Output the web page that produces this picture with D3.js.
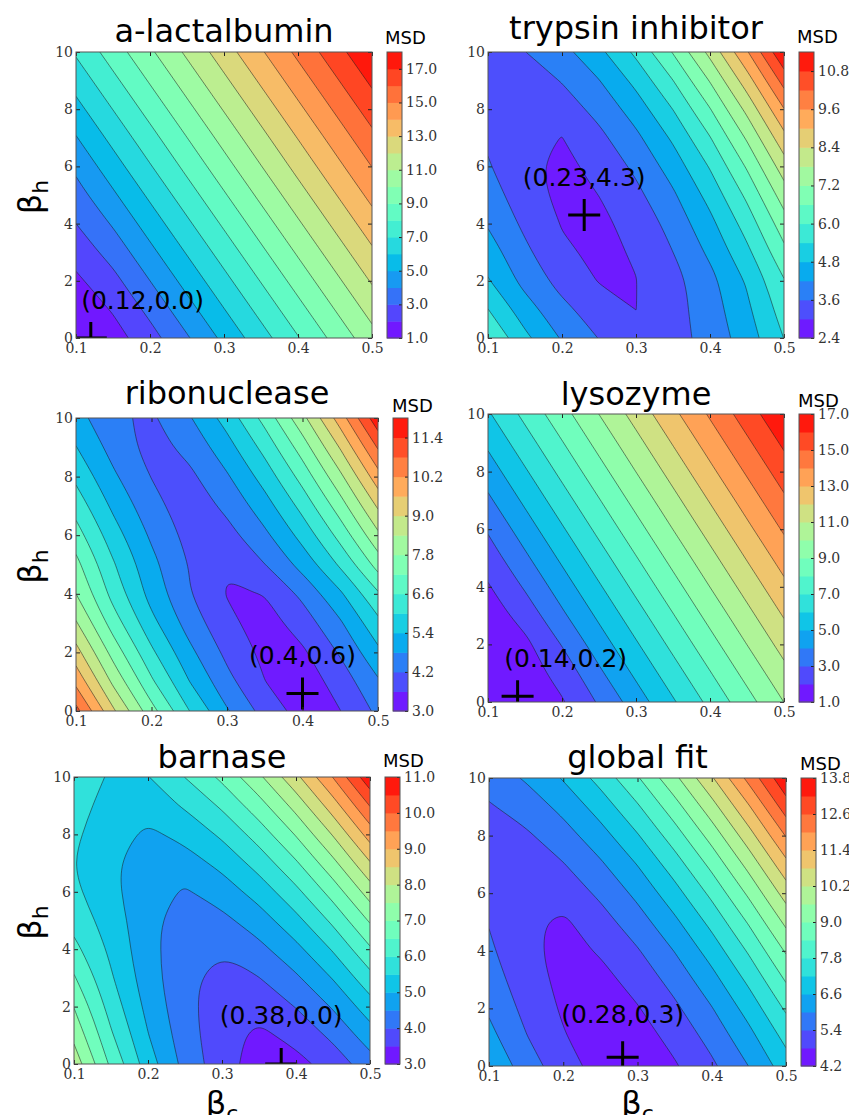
<!DOCTYPE html>
<html>
<head>
<meta charset="utf-8">
<script src="https://cdn.jsdelivr.net/npm/d3@7"></script>
<style>
  body { margin: 0; background: #fff; }
  svg { display: block; }
</style>
</head>
<body>
<svg id="chart" width="849" height="1115"></svg>
<script>
// Grid of the scan: beta_c across, beta_h up
const betaC = [0.1, 0.15, 0.2, 0.25, 0.3, 0.35, 0.4, 0.45, 0.5];
const betaH = [0, 1, 2, 3, 4, 5, 6, 7, 8, 9, 10];

// MSD, one row per beta_h value (0 at the bottom)
const lactalbuminMSD = [
    [1.05, 1.57, 2.61, 3.89, 5.24, 6.59, 7.94, 9.29, 10.64],
    [1.30, 2.09, 3.27, 4.62, 5.97, 7.32, 8.67, 10.02, 11.37],
    [1.80, 2.70, 4.00, 5.35, 6.70, 8.05, 9.40, 10.75, 12.10],
    [2.40, 3.38, 4.73, 6.08, 7.43, 8.78, 10.13, 11.48, 12.83],
    [3.00, 4.11, 5.46, 6.81, 8.16, 9.51, 10.86, 12.21, 13.56],
    [3.60, 4.84, 6.19, 7.54, 8.89, 10.24, 11.59, 12.94, 14.29],
    [4.22, 5.57, 6.92, 8.27, 9.62, 10.97, 12.32, 13.67, 15.02],
    [4.94, 6.29, 7.64, 8.99, 10.34, 11.69, 13.04, 14.39, 15.74],
    [5.67, 7.02, 8.37, 9.72, 11.07, 12.42, 13.77, 15.12, 16.47],
    [6.40, 7.75, 9.10, 10.45, 11.80, 13.15, 14.50, 15.85, 17.20],
    [7.13, 8.48, 9.83, 11.18, 12.53, 13.88, 15.23, 16.58, 17.93]
];
const trypsinMSD = [
    [5.97, 4.94, 4.14, 3.58, 3.24, 3.37, 3.82, 4.50, 5.41],
    [5.41, 4.47, 3.76, 3.28, 2.995, 3.38, 3.91, 4.68, 5.68],
    [4.85, 4.00, 3.38, 2.97, 2.99, 3.39, 4.01, 4.87, 5.96],
    [4.49, 3.73, 3.08, 2.90, 3.04, 3.60, 4.32, 5.26, 6.44],
    [4.14, 3.47, 2.97, 2.88, 3.18, 3.82, 4.63, 5.66, 6.93],
    [3.86, 3.28, 2.84, 3.005, 3.45, 4.11, 5.01, 6.13, 7.49],
    [3.65, 3.16, 2.83, 3.20, 3.72, 4.47, 5.45, 6.67, 8.11],
    [3.51, 3.11, 2.99, 3.45, 4.06, 4.90, 5.97, 7.28, 8.81],
    [3.45, 3.13, 3.31, 3.78, 4.48, 5.41, 6.57, 7.96, 9.58],
    [3.46, 3.30, 3.63, 4.18, 4.97, 5.99, 7.24, 8.72, 10.43],
    [3.53, 3.59, 4.00, 4.65, 5.53, 6.64, 7.97, 9.54, 11.35]
];
const ribonucleaseMSD = [
    [11.00, 9.08, 7.42, 6.01, 4.86, 3.97, 3.34, 3.59, 4.33],
    [10.04, 8.24, 6.70, 5.41, 4.38, 3.61, 3.25, 3.86, 4.72],
    [9.23, 7.55, 6.12, 4.96, 4.05, 3.45, 3.50, 4.27, 5.26],
    [8.46, 6.89, 5.58, 4.54, 3.74, 3.35, 3.88, 4.72, 5.83],
    [7.80, 6.36, 5.17, 4.24, 3.57, 3.61, 4.34, 5.30, 6.52],
    [7.38, 6.05, 4.98, 4.17, 3.63, 4.19, 5.02, 6.10, 7.44],
    [6.86, 5.66, 4.70, 4.01, 3.99, 4.67, 5.61, 6.81, 8.27],
    [6.35, 5.26, 4.42, 3.85, 4.34, 5.14, 6.20, 7.52, 9.09],
    [5.86, 4.89, 4.18, 4.06, 4.73, 5.65, 6.83, 8.26, 9.96],
    [5.42, 4.57, 3.97, 4.38, 5.16, 6.20, 7.49, 9.05, 10.86],
    [5.04, 4.30, 4.10, 4.74, 5.64, 6.80, 8.22, 9.89, 11.82]
];
const lysozymeMSD = [
    [1.10, 1.15, 1.91, 3.11, 4.50, 5.88, 7.26, 8.63, 10.01],
    [1.04, 1.53, 2.35, 3.81, 5.19, 6.57, 7.94, 9.32, 10.69],
    [1.15, 1.75, 3.05, 4.50, 5.88, 7.26, 8.63, 10.01, 11.38],
    [1.45, 2.40, 3.81, 5.19, 6.57, 7.94, 9.32, 10.69, 12.07],
    [1.91, 3.11, 4.50, 5.88, 7.26, 8.63, 10.01, 11.38, 12.76],
    [2.48, 3.81, 5.19, 6.57, 7.94, 9.32, 10.69, 12.07, 13.44],
    [3.11, 4.50, 5.88, 7.26, 8.63, 10.01, 11.38, 12.76, 14.13],
    [3.81, 5.19, 6.57, 7.94, 9.32, 10.69, 12.07, 13.44, 14.82],
    [4.50, 5.88, 7.26, 8.63, 10.01, 11.38, 12.76, 14.13, 15.51],
    [5.19, 6.57, 7.94, 9.32, 10.69, 12.07, 13.44, 14.82, 16.19],
    [5.88, 7.26, 8.63, 10.01, 11.38, 12.76, 14.13, 15.51, 16.88]
];
const barnaseMSD = [
    [7.80, 6.40, 5.24, 4.34, 3.69, 3.29, 3.34, 3.72, 4.28],
    [7.37, 6.07, 5.02, 4.22, 3.68, 3.39, 3.66, 4.11, 4.76],
    [6.98, 5.79, 4.85, 4.15, 3.71, 3.67, 4.02, 4.55, 5.27],
    [6.55, 5.56, 4.72, 4.14, 3.80, 3.99, 4.42, 5.03, 5.83],
    [6.15, 5.39, 4.66, 4.18, 4.04, 4.36, 4.86, 5.55, 6.43],
    [5.80, 5.27, 4.64, 4.26, 4.37, 4.76, 5.35, 6.11, 7.06],
    [5.60, 5.12, 4.68, 4.45, 4.74, 5.21, 5.87, 6.71, 7.74],
    [5.50, 5.08, 4.76, 4.78, 5.14, 5.70, 6.43, 7.36, 8.46],
    [5.58, 5.21, 4.90, 5.15, 5.59, 6.22, 7.04, 8.04, 9.22],
    [5.70, 5.30, 5.22, 5.56, 6.08, 6.79, 7.68, 8.76, 10.02],
    [5.79, 5.44, 5.48, 6.01, 6.61, 7.40, 8.37, 9.52, 10.86]
];
const globalMSD = [
    [6.53, 5.70, 5.05, 4.57, 4.36, 4.74, 5.29, 6.01, 6.91],
    [6.19, 5.43, 4.85, 4.45, 4.53, 4.98, 5.60, 6.40, 7.37],
    [5.91, 5.23, 4.72, 4.41, 4.76, 5.28, 5.97, 6.84, 7.89],
    [5.68, 5.07, 4.64, 4.61, 5.03, 5.62, 6.39, 7.34, 8.46],
    [5.50, 4.96, 4.60, 4.86, 5.35, 6.02, 6.86, 7.88, 9.07],
    [5.37, 4.91, 4.70, 5.16, 5.73, 6.47, 7.38, 8.47, 9.74],
    [5.28, 4.80, 5.05, 5.51, 6.15, 6.97, 7.95, 9.12, 10.46],
    [5.25, 5.01, 5.37, 5.91, 6.62, 7.51, 8.57, 9.81, 11.22],
    [5.27, 5.31, 5.75, 6.36, 7.15, 8.11, 9.24, 10.55, 12.04],
    [5.34, 5.66, 6.17, 6.86, 7.72, 8.75, 9.96, 11.34, 12.90],
    [5.66, 6.07, 6.65, 7.41, 8.34, 9.45, 10.73, 12.19, 13.70]
];

// Contour levels and colorbar ticks
const lactalbuminLevels = [1, 2, 3, 4, 5, 6, 7, 8, 9, 10, 11, 12, 13, 14, 15, 16, 17, 18];
const lactalbuminTicks = [1, 3, 5, 7, 9, 11, 13, 15, 17];
const trypsinLevels = [2.4, 3.0, 3.6, 4.2, 4.8, 5.4, 6.0, 6.6, 7.2, 7.8, 8.4, 9.0, 9.6, 10.2, 10.8, 11.4];
const trypsinTicks = [2.4, 3.6, 4.8, 6.0, 7.2, 8.4, 9.6, 10.8];
const ribonucleaseLevels = [3.0, 3.6, 4.2, 4.8, 5.4, 6.0, 6.6, 7.2, 7.8, 8.4, 9.0, 9.6, 10.2, 10.8, 11.4, 12.0];
const ribonucleaseTicks = [3.0, 4.2, 5.4, 6.6, 7.8, 9.0, 10.2, 11.4];
const lysozymeLevels = [1, 2, 3, 4, 5, 6, 7, 8, 9, 10, 11, 12, 13, 14, 15, 16, 17];
const lysozymeTicks = [1, 3, 5, 7, 9, 11, 13, 15, 17];
const barnaseLevels = [3.0, 3.5, 4.0, 4.5, 5.0, 5.5, 6.0, 6.5, 7.0, 7.5, 8.0, 8.5, 9.0, 9.5, 10.0, 10.5, 11.0];
const barnaseTicks = [3, 4, 5, 6, 7, 8, 9, 10, 11];
const globalLevels = [4.2, 4.8, 5.4, 6.0, 6.6, 7.2, 7.8, 8.4, 9.0, 9.6, 10.2, 10.8, 11.4, 12.0, 12.6, 13.2, 13.8];
const globalTicks = [4.2, 5.4, 6.6, 7.8, 9.0, 10.2, 11.4, 12.6, 13.8];

// Best fit (beta_c, beta_h) marked on each map
const titles = ['a-lactalbumin', 'trypsin inhibitor', 'ribonuclease', 'lysozyme', 'barnase', 'global fit'];
const bestFits = [[0.12, 0.0], [0.23, 4.3], [0.4, 0.6], [0.14, 0.2], [0.38, 0.0], [0.28, 0.3]];

const panels = [
    { grid: lactalbuminMSD, levels: lactalbuminLevels, ticks: lactalbuminTicks },
    { grid: trypsinMSD, levels: trypsinLevels, ticks: trypsinTicks },
    { grid: ribonucleaseMSD, levels: ribonucleaseLevels, ticks: ribonucleaseTicks },
    { grid: lysozymeMSD, levels: lysozymeLevels, ticks: lysozymeTicks },
    { grid: barnaseMSD, levels: barnaseLevels, ticks: barnaseTicks },
    { grid: globalMSD, levels: globalLevels, ticks: globalTicks }
];

// Where each panel sits on the page (pixels); label anchor in data units
const LAYOUT = [
    { left: 76, top: 52, width: 296, height: 286, cbX: 387, titleY: 42, msd: [385, 44], label: [0.19, 1.0] },
    { left: 488, top: 52, width: 296, height: 286, cbX: 799, titleY: 39, msd: [797, 43], label: [0.23, 5.3] },
    { left: 76, top: 418, width: 302, height: 293, cbX: 393, titleY: 404, msd: [392, 412], label: [0.4, 1.6] },
    { left: 488, top: 414, width: 296, height: 288, cbX: 799, titleY: 405, msd: [798, 407], label: [0.205, 1.2] },
    { left: 74, top: 777, width: 296, height: 287, cbX: 385, titleY: 768, msd: [383, 767], label: [0.38, 1.4] },
    { left: 489, top: 778, width: 297, height: 288, cbX: 801, titleY: 768, msd: [800, 770], label: [0.28, 1.5] }
];
const CB_WIDTH = 15;
const SANS = 'DejaVu Sans, sans-serif';
const SERIF = 'DejaVu Serif, serif';

// matplotlib "rainbow" colormap
function rainbow(t) {
    const r = Math.min(1, Math.abs(2 * t - 0.5));
    const g = Math.sin(Math.PI * t);
    const b = Math.cos(Math.PI * t / 2);
    return d3.rgb(r * 255, g * 255, b * 255).formatHex();
}

const svg = d3.select('#chart');
const defs = svg.append('defs');
const basisOpen = d3.line().curve(d3.curveBasis);
const basisClosed = d3.line().curve(d3.curveBasisClosed);

// Turn one contour ring into a fill outline and the iso-lines inside the plot.
// Ring points that d3 puts on the padded grid border are pulled onto the plot frame,
// the parts running along the frame stay straight and only the iso-lines are smoothed.
function ringToPaths(ring, toPx) {
    const nx = betaC.length, ny = betaH.length;
    const onEdge = ([cx, cy]) => cx === 0 || cx === nx || cy === 0 || cy === ny;
    const pts = ring.slice(0, -1);
    const start = pts.findIndex(onEdge);
    if (start < 0) {
        const d = basisClosed(pts.map(toPx));
        return { fill: d, lines: [d] };
    }
    const m = pts.length;
    const seq = d3.range(m + 1).map(j => pts[(start + j) % m]);
    let fill = 'M' + toPx(seq[0]).join(',');
    const lines = [];
    let j = 1;
    while (j < seq.length) {
        if (onEdge(seq[j])) {
            fill += 'L' + toPx(seq[j]).join(',');
            j++;
            continue;
        }
        const run = [];
        while (j < seq.length && !onEdge(seq[j])) {
            run.push(toPx(seq[j]));
            j++;
        }
        const d = run.length > 1 ? basisOpen(run) : 'M' + run[0].join(',');
        fill += 'L' + d.slice(1);
        if (run.length > 1) lines.push(d);
    }
    return { fill: fill + 'Z', lines };
}

function drawPanel(p, L, k) {
    const x = d3.scaleLinear().domain([0.1, 0.5]).range([L.left, L.left + L.width]);
    const y = d3.scaleLinear().domain([0, 10]).range([L.top + L.height, L.top]);
    const n = p.levels.length - 1;
    const color = d3.scaleSequential(rainbow).domain([p.levels[0], p.levels[n]]);
    const bandColor = i => color((p.levels[i] + p.levels[i + 1]) / 2);

    defs.append('clipPath').attr('id', 'plot-clip-' + k)
        .append('rect')
        .attr('x', L.left).attr('y', L.top)
        .attr('width', L.width).attr('height', L.height);

    const plot = svg.append('g').attr('clip-path', `url(#plot-clip-${k})`);

    // lowest band is the background
    plot.append('rect')
        .attr('x', L.left).attr('y', L.top)
        .attr('width', L.width).attr('height', L.height)
        .attr('fill', bandColor(0));

    const nx = betaC.length, ny = betaH.length;
    const contours = d3.contours()
        .size([nx, ny])
        .thresholds(p.levels.slice(1, n))(p.grid.flat());

    // grid cell centres sit at index + 0.5 in contour space
    const stepC = betaC[1] - betaC[0];
    const stepH = betaH[1] - betaH[0];
    const toPx = ([cx, cy]) => {
        const sx = Math.min(Math.max(cx, 0.5), nx - 0.5);
        const sy = Math.min(Math.max(cy, 0.5), ny - 0.5);
        return [x(betaC[0] + (sx - 0.5) * stepC), y(betaH[0] + (sy - 0.5) * stepH)];
    };

    const shapes = contours.map(c => {
        const parts = c.coordinates.flatMap(poly => poly.map(ring => ringToPaths(ring, toPx)));
        return {
            fill: parts.map(q => q.fill).join(''),
            lines: parts.flatMap(q => q.lines).join('')
        };
    });

    plot.selectAll('path.band')
        .data(shapes)
        .join('path')
        .attr('class', 'band')
        .attr('d', d => d.fill)
        .attr('fill', (d, i) => bandColor(i + 1))
        .attr('fill-rule', 'evenodd');

    plot.selectAll('path.iso')
        .data(shapes)
        .join('path')
        .attr('class', 'iso')
        .attr('d', d => d.lines)
        .attr('fill', 'none')
        .attr('stroke', '#1a1a1a')
        .attr('stroke-opacity', 0.7)
        .attr('stroke-width', 0.75);

    // best-fit cross
    const best = bestFits[k];
    const bx = x(best[0]), by = y(best[1]);
    plot.append('path')
        .attr('d', `M${bx - 16},${by}H${bx + 16}M${bx},${by - 16}V${by + 16}`)
        .attr('stroke', '#000')
        .attr('stroke-width', 3)
        .attr('fill', 'none');

    svg.append('text')
        .attr('x', x(L.label[0]))
        .attr('y', y(L.label[1]))
        .attr('text-anchor', 'middle')
        .attr('font-family', SANS)
        .attr('font-size', 25)
        .attr('fill', '#000')
        .text(`(${best[0]},${best[1].toFixed(1)})`);

    // axes with inward ticks on all four sides
    const xTicks = [0.1, 0.2, 0.3, 0.4, 0.5];
    const yTicks = [0, 2, 4, 6, 8, 10];
    const styleAxis = g => {
        g.select('.domain').remove();
        g.selectAll('.tick line').attr('stroke', '#222');
        g.selectAll('.tick text')
            .attr('font-family', SERIF)
            .attr('font-size', 14)
            .attr('fill', '#333');
    };

    svg.append('g')
        .attr('transform', `translate(0,${L.top + L.height})`)
        .call(d3.axisBottom(x).tickValues(xTicks).tickFormat(d3.format('.1f'))
            .tickSizeInner(-4).tickSizeOuter(0).tickPadding(5))
        .call(styleAxis);
    svg.append('g')
        .attr('transform', `translate(0,${L.top})`)
        .call(d3.axisTop(x).tickValues(xTicks).tickFormat('')
            .tickSizeInner(-4).tickSizeOuter(0))
        .call(styleAxis);
    svg.append('g')
        .attr('transform', `translate(${L.left},0)`)
        .call(d3.axisLeft(y).tickValues(yTicks).tickFormat(d3.format('d'))
            .tickSizeInner(-4).tickSizeOuter(0).tickPadding(3))
        .call(styleAxis);
    svg.append('g')
        .attr('transform', `translate(${L.left + L.width},0)`)
        .call(d3.axisRight(y).tickValues(yTicks).tickFormat('')
            .tickSizeInner(-4).tickSizeOuter(0))
        .call(styleAxis);

    svg.append('rect')
        .attr('x', L.left).attr('y', L.top)
        .attr('width', L.width).attr('height', L.height)
        .attr('fill', 'none')
        .attr('stroke', '#555')
        .attr('stroke-width', 1);

    // title
    svg.append('text')
        .attr('x', L.left + L.width / 2)
        .attr('y', L.titleY)
        .attr('text-anchor', 'middle')
        .attr('font-family', SANS)
        .attr('font-size', 32)
        .attr('fill', '#000')
        .text(titles[k]);

    // colorbar
    const cy = d3.scaleLinear().domain([p.levels[0], p.levels[n]]).range([L.top + L.height, L.top]);
    const cb = svg.append('g');
    cb.selectAll('rect')
        .data(d3.range(n))
        .join('rect')
        .attr('x', L.cbX)
        .attr('width', CB_WIDTH)
        .attr('y', i => cy(p.levels[i + 1]))
        .attr('height', i => cy(p.levels[i]) - cy(p.levels[i + 1]) + 0.5)
        .attr('fill', i => bandColor(i));

    svg.append('g')
        .attr('transform', `translate(${L.cbX + CB_WIDTH},0)`)
        .call(d3.axisRight(cy).tickValues(p.ticks).tickFormat(d3.format('.1f'))
            .tickSizeInner(-3).tickSizeOuter(0).tickPadding(4))
        .call(styleAxis);

    svg.append('rect')
        .attr('x', L.cbX).attr('y', L.top)
        .attr('width', CB_WIDTH).attr('height', L.height)
        .attr('fill', 'none')
        .attr('stroke', '#555')
        .attr('stroke-width', 1);

    svg.append('text')
        .attr('x', L.msd[0])
        .attr('y', L.msd[1])
        .attr('font-family', SANS)
        .attr('font-size', 18)
        .attr('fill', '#000')
        .text('MSD');

    // beta_h on the left column, beta_c under the bottom row
    if (k % 2 === 0) {
        const cyMid = L.top + L.height / 2;
        const yl = svg.append('text')
            .attr('transform', `translate(41,${cyMid + 2}) rotate(-90)`)
            .attr('text-anchor', 'middle')
            .attr('font-family', SANS)
            .attr('font-size', 32)
            .attr('fill', '#000');
        yl.append('tspan').text('β');
        yl.append('tspan').attr('font-size', 22).attr('dy', 7).text('h');
    }
    if (k >= 4) {
        const xl = svg.append('text')
            .attr('x', L.left + L.width / 2)
            .attr('y', 1114)
            .attr('text-anchor', 'middle')
            .attr('font-family', SANS)
            .attr('font-size', 32)
            .attr('fill', '#000');
        xl.append('tspan').text('β');
        xl.append('tspan').attr('font-size', 22).attr('dy', 7).text('c');
    }
}

panels.forEach((p, k) => drawPanel(p, LAYOUT[k], k));
</script>
</body>
</html>
